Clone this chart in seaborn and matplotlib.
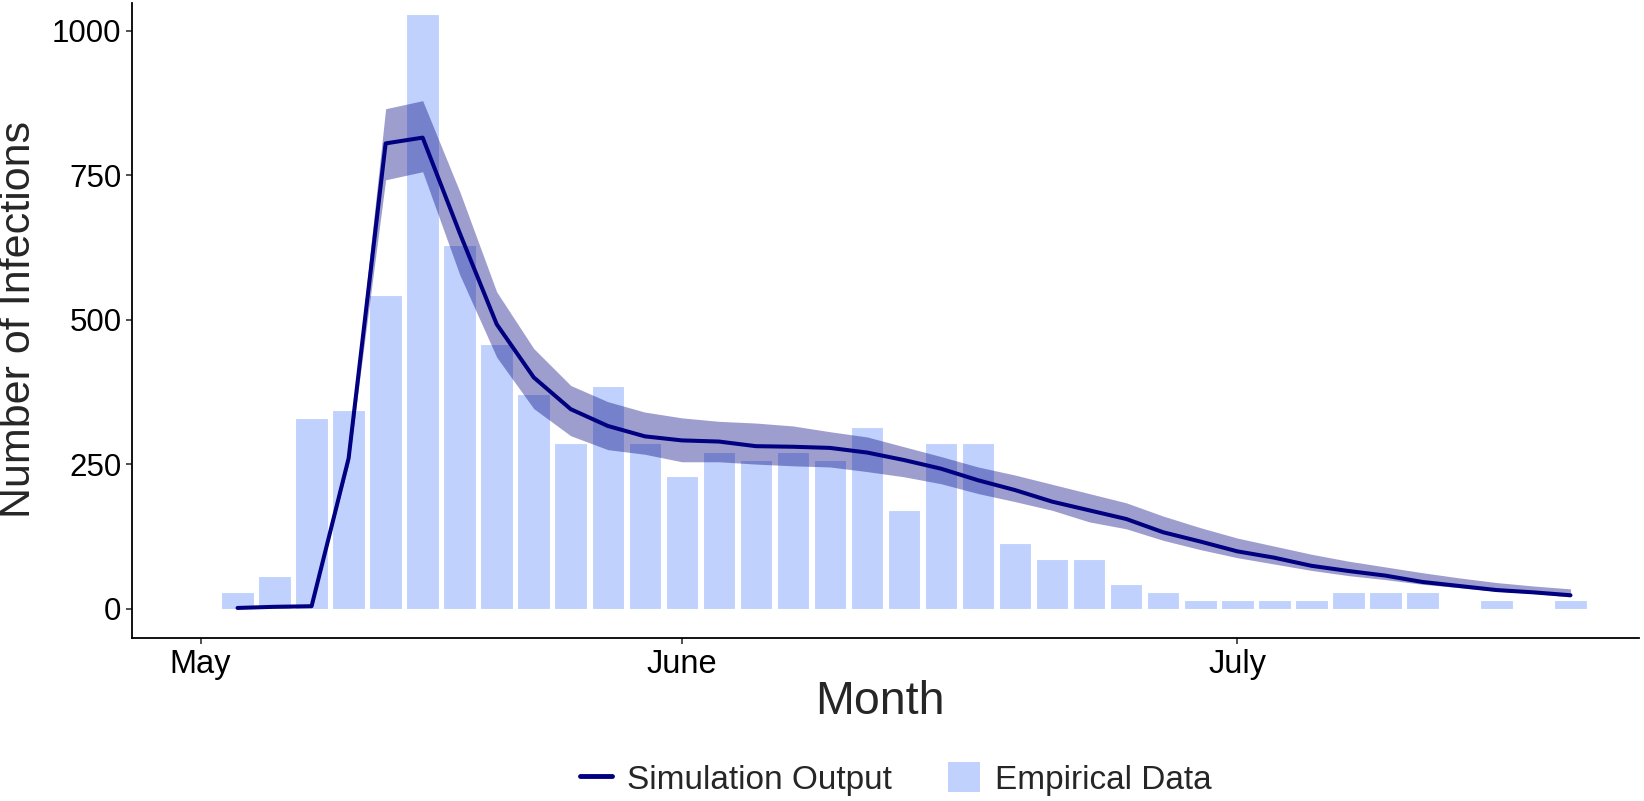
import numpy as np
import pandas as pd
import matplotlib
matplotlib.use("Agg")
import matplotlib.pyplot as plt
from matplotlib.lines import Line2D
from matplotlib.patches import Patch
import seaborn as sns

# ---- data (one point every bar slot) ----
slot = list(range(37))

empirical = [29, 57, 329, 343, 543, 1029, 629, 457, 371, 286, 386, 286, 229,
             271, 257, 271, 257, 314, 171, 286, 286, 114, 86, 86, 43, 29,
             14, 14, 14, 14, 29, 29, 29, 0, 14, 0, 14]

sim_mean = [1, 3, 4, 260, 805, 815, 650, 492, 400, 345, 316, 298, 291,
            289, 281, 280, 278, 270, 257, 242, 222, 205, 185, 170, 155, 132,
            116, 99, 88, 74, 65, 57, 46, 39, 32, 28, 23]

sim_upper = [2, 5, 6, 270, 865, 879, 722, 548, 450, 386, 358, 340, 330,
             324, 321, 316, 306, 297, 280, 263, 245, 231, 215, 199, 183, 160,
             140, 122, 108, 94, 82, 72, 62, 53, 45, 39, 34]

sim_lower = [0, 1, 2, 250, 742, 756, 578, 435, 346, 299, 275, 267, 254,
             254, 250, 247, 245, 237, 228, 216, 199, 185, 170, 150, 138, 118,
             102, 88, 77, 66, 57, 50, 42, 36, 30, 26, 20]

month_pos = [-1, 12, 27]
month_labels = ["May", "June", "July"]

df = pd.DataFrame({"slot": slot, "empirical": empirical, "mean": sim_mean,
                   "upper": sim_upper, "lower": sim_lower})

bar_color = "#BFD1FC"
line_color = "#000080"

sns.set_style("ticks")
plt.rcParams["font.family"] = ["Liberation Sans", "DejaVu Sans"]

fig = plt.figure(figsize=(16.44, 8.01), dpi=100)
ax = fig.add_axes([132 / 1644, 1 - 638 / 801, (1639 - 132) / 1644, (638 - 3) / 801])

sns.barplot(data=df, x="slot", y="empirical", native_scale=True, width=0.88,
            color=bar_color, saturation=1, edgecolor="white", linewidth=0.8, ax=ax)
ax.fill_between(df["slot"], df["lower"], df["upper"], color=line_color,
                alpha=0.38, linewidth=0)
sns.lineplot(data=df, x="slot", y="mean", color=line_color, linewidth=2.9, ax=ax)

ax.set_xlim(-2.85, 37.85)
ax.set_ylim(-51, 1048)
ax.set_xticks(month_pos)
ax.set_xticklabels(month_labels)
ax.set_yticks([0, 250, 500, 750, 1000])
ax.tick_params(axis="x", labelsize=23.5, length=4, width=1.2, pad=4,
               color="#333333", labelcolor="black")
ax.tick_params(axis="y", labelsize=22.5, length=4.5, width=1.2, pad=3,
               color="#333333", labelcolor="black")
for s in ["top", "right"]:
    ax.spines[s].set_visible(False)
for s in ["left", "bottom"]:
    ax.spines[s].set_linewidth(1.3)
    ax.spines[s].set_color("black")

ax.set_xlabel("")
ax.set_ylabel("")
fig.text(880 / 1644, 1 - 702 / 801, "Month", fontsize=33.5, ha="center", va="center")
fig.text(19 / 1644, 1 - 320 / 801, "Number of Infections", fontsize=31,
         rotation=90, ha="center", va="center")

handles = [Line2D([0], [0], color=line_color, linewidth=3.5),
           Patch(facecolor=bar_color, edgecolor="none")]
fig.legend(handles, ["Simulation Output", "Empirical Data"], loc="center",
           bbox_to_anchor=(896 / 1644, 1 - 779 / 801), ncol=2, frameon=False,
           fontsize=24, handlelength=0.95, handleheight=1.0, handletextpad=0.45,
           columnspacing=1.7)

fig.savefig("out.png", dpi=100)
